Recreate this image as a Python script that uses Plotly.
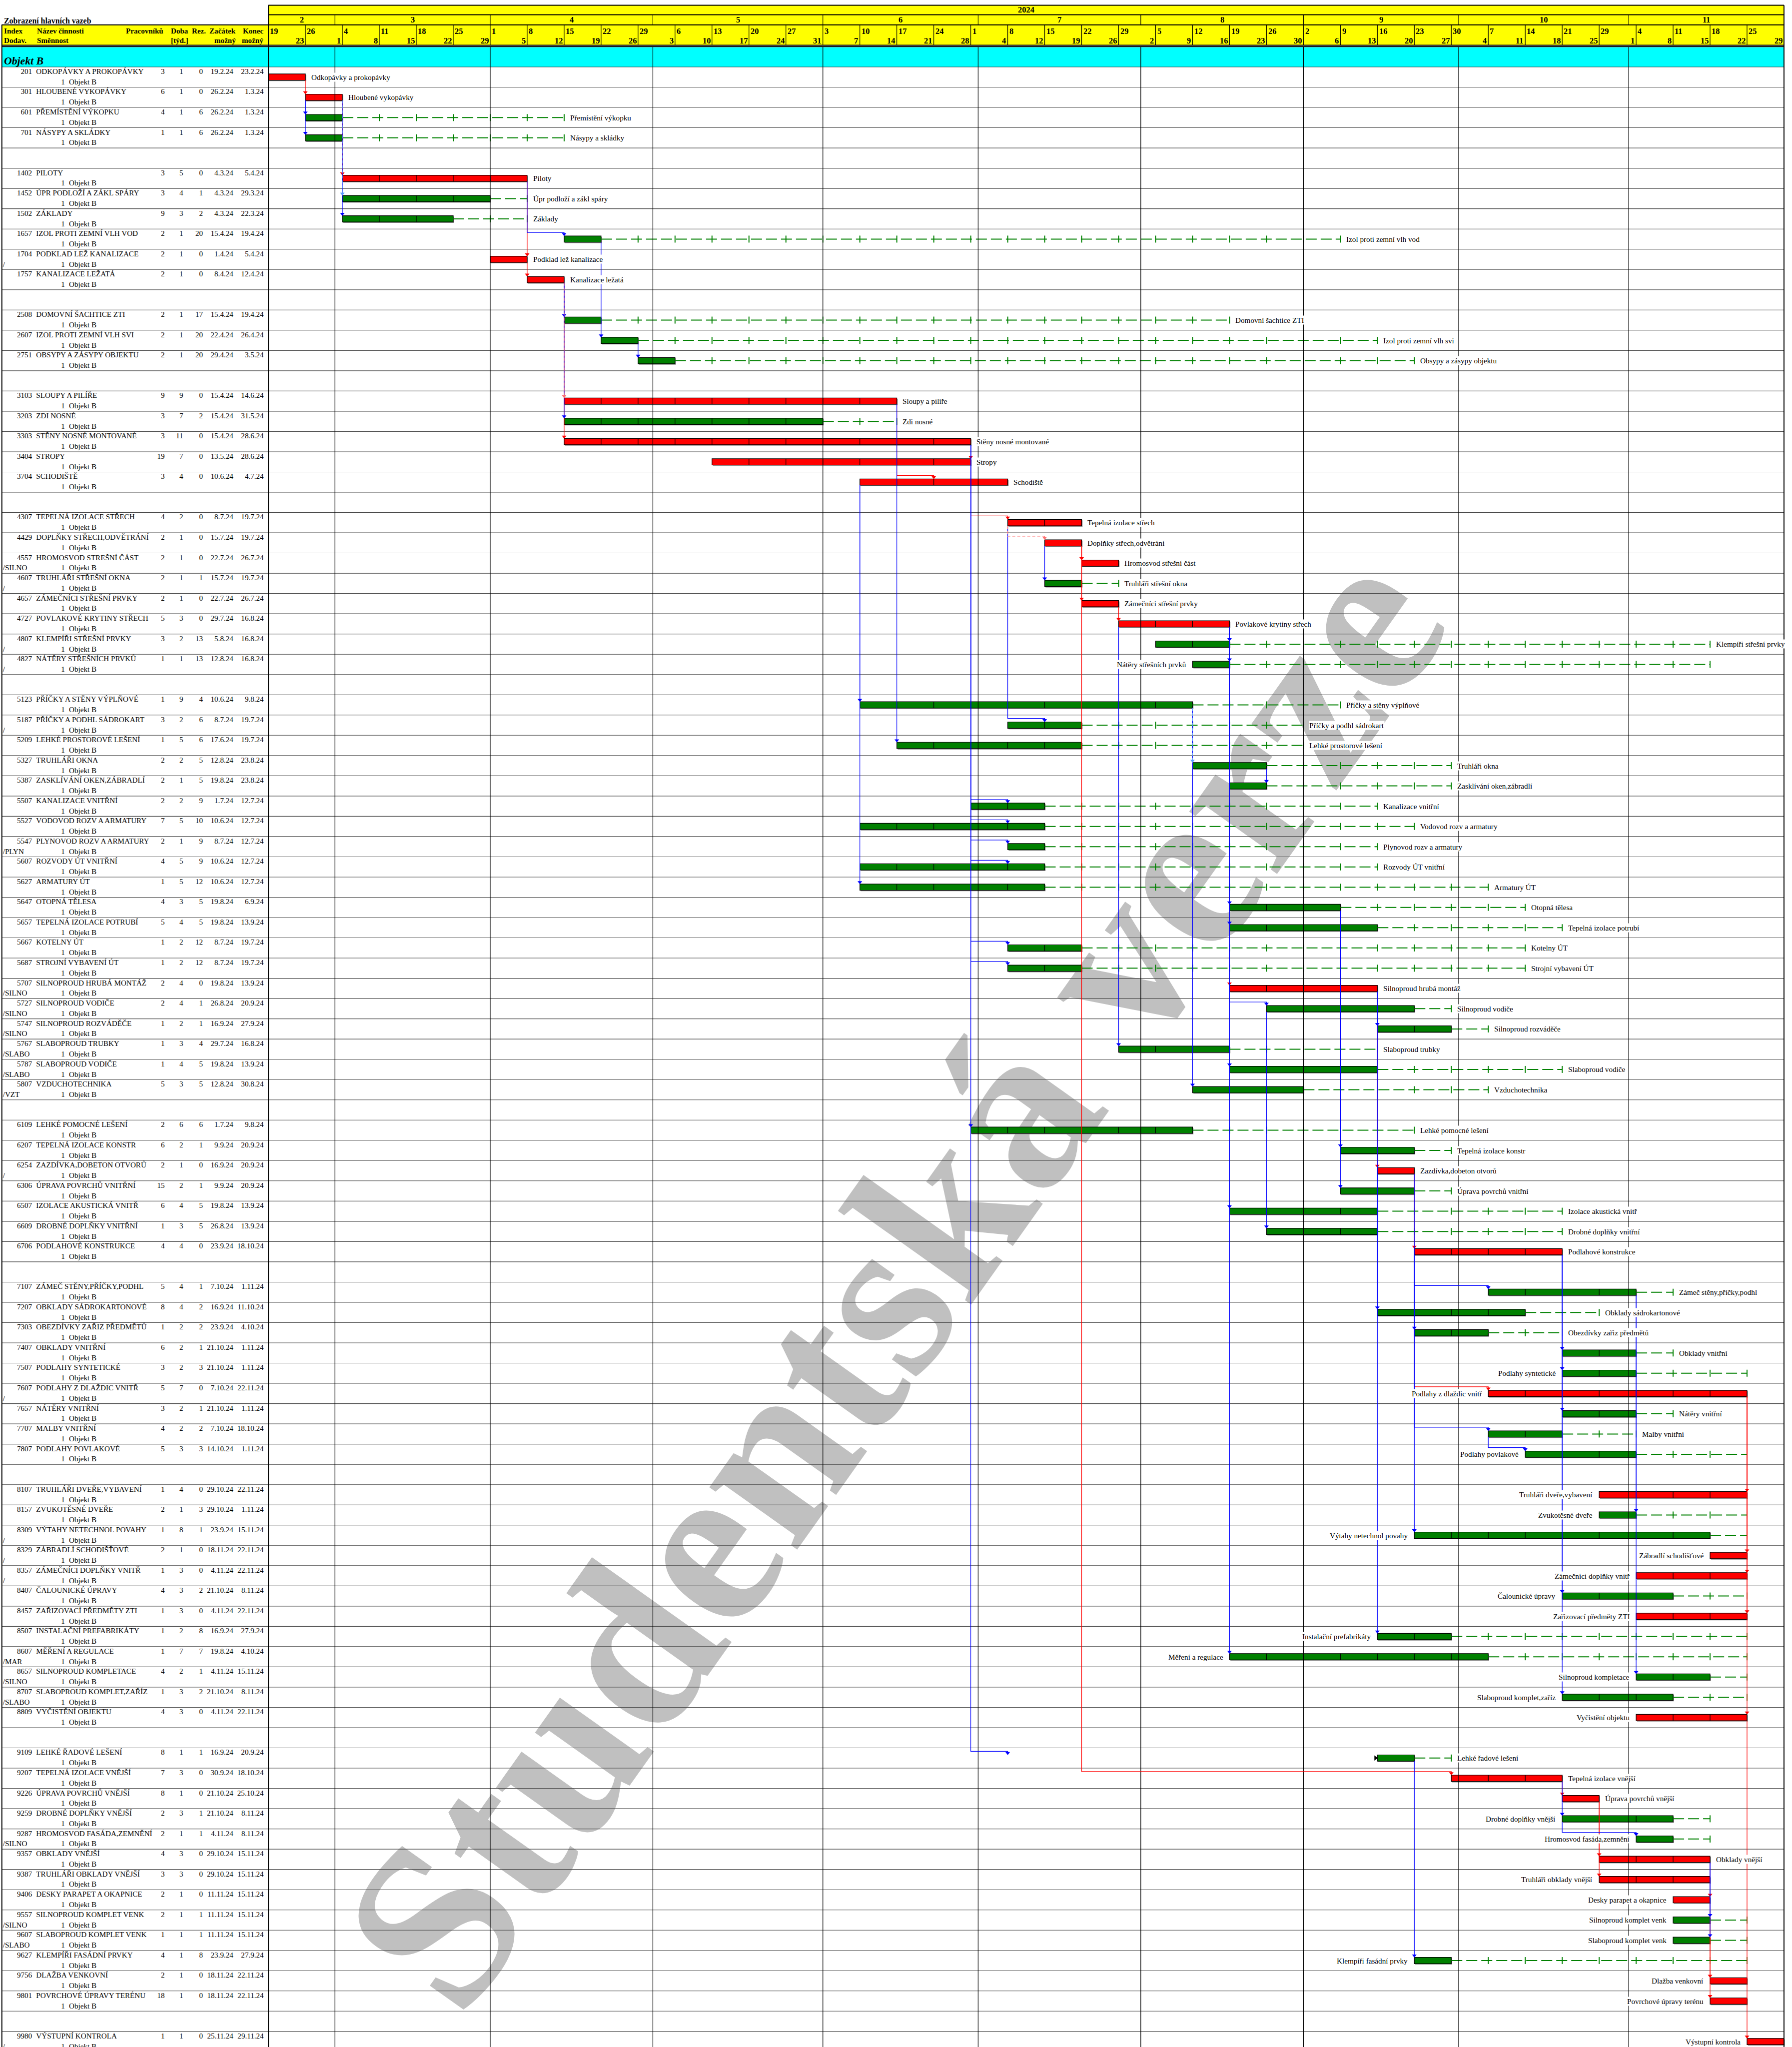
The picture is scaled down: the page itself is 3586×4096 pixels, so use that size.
import plotly.graph_objects as go
from datetime import date, timedelta

# ---------------- data ----------------
row_codes = [201, 301, 601, 701, None,
             1402, 1452, 1502, 1657, 1704, 1757, None,
             2508, 2607, 2751, None,
             3103, 3203, 3303, 3404, 3704, None,
             4307, 4429, 4557, 4607, 4657, 4727, 4807, 4827, None,
             5123, 5187, 5209, 5327, 5387, 5507, 5527, 5547, 5607, 5627, 5647, 5657, 5667, 5687,
             5707, 5727, 5747, 5767, 5787, 5807, None,
             6109, 6207, 6254, 6306, 6507, 6609, 6706, None,
             7107, 7207, 7303, 7407, 7507, 7607, 7657, 7707, 7807, None,
             8107, 8157, 8309, 8329, 8357, 8407, 8457, 8507, 8607, 8657, 8707, 8809, None,
             9109, 9207, 9226, 9259, 9287, 9357, 9387, 9406, 9557, 9607, 9627, 9756, 9801, None,
             9980]

codes = [201, 301, 601, 701, 1402, 1452, 1502, 1657, 1704, 1757, 2508, 2607, 2751,
         3103, 3203, 3303, 3404, 3704, 4307, 4429, 4557, 4607, 4657, 4727, 4807, 4827,
         5123, 5187, 5209, 5327, 5387, 5507, 5527, 5547, 5607, 5627, 5647, 5657, 5667, 5687,
         5707, 5727, 5747, 5767, 5787, 5807, 6109, 6207, 6254, 6306, 6507, 6609, 6706,
         7107, 7207, 7303, 7407, 7507, 7607, 7657, 7707, 7807,
         8107, 8157, 8309, 8329, 8357, 8407, 8457, 8507, 8607, 8657, 8707, 8809,
         9109, 9207, 9226, 9259, 9287, 9357, 9387, 9406, 9557, 9607, 9627, 9756, 9801, 9980]

names = ["ODKOPÁVKY A PROKOPÁVKY", "HLOUBENÉ VYKOPÁVKY", "PŘEMÍSTĚNÍ VÝKOPKU", "NÁSYPY A SKLÁDKY",
         "PILOTY", "ÚPR PODLOŽÍ A ZÁKL SPÁRY", "ZÁKLADY", "IZOL PROTI ZEMNÍ VLH VOD",
         "PODKLAD LEŽ KANALIZACE", "KANALIZACE LEŽATÁ", "DOMOVNÍ ŠACHTICE ZTI",
         "IZOL PROTI ZEMNÍ VLH SVI", "OBSYPY A ZÁSYPY OBJEKTU",
         "SLOUPY A PILÍŘE", "ZDI NOSNÉ", "STĚNY NOSNÉ MONTOVANÉ", "STROPY", "SCHODIŠTĚ",
         "TEPELNÁ IZOLACE STŘECH", "DOPLŇKY STŘECH,ODVĚTRÁNÍ", "HROMOSVOD STREŠNÍ ČÁST",
         "TRUHLÁŘI STŘEŠNÍ OKNA", "ZÁMEČNÍCI STŘEŠNÍ PRVKY", "POVLAKOVÉ KRYTINY STŘECH",
         "KLEMPÍŘI STŘEŠNÍ PRVKY", "NÁTĚRY STŘEŠNÍCH PRVKŮ",
         "PŘÍČKY A STĚNY VÝPLŇOVÉ", "PŘÍČKY A PODHL SÁDROKART", "LEHKÉ PROSTOROVÉ LEŠENÍ",
         "TRUHLÁŘI OKNA", "ZASKLÍVÁNÍ OKEN,ZÁBRADLÍ", "KANALIZACE VNITŘNÍ",
         "VODOVOD ROZV A ARMATURY", "PLYNOVOD ROZV A ARMATURY", "ROZVODY ÚT VNITŘNÍ",
         "ARMATURY ÚT", "OTOPNÁ TĚLESA", "TEPELNÁ IZOLACE POTRUBÍ", "KOTELNY ÚT",
         "STROJNÍ VYBAVENÍ ÚT", "SILNOPROUD HRUBÁ MONTÁŽ", "SILNOPROUD VODIČE",
         "SILNOPROUD ROZVÁDĚČE", "SLABOPROUD TRUBKY", "SLABOPROUD VODIČE", "VZDUCHOTECHNIKA",
         "LEHKÉ POMOCNÉ LEŠENÍ", "TEPELNÁ IZOLACE KONSTR", "ZAZDÍVKA,DOBETON OTVORŮ",
         "ÚPRAVA POVRCHŮ VNITŘNÍ", "IZOLACE AKUSTICKÁ VNITŘ", "DROBNÉ DOPLŇKY VNITŘNÍ",
         "PODLAHOVÉ KONSTRUKCE",
         "ZÁMEČ STĚNY,PŘÍČKY,PODHL", "OBKLADY SÁDROKARTONOVÉ", "OBEZDÍVKY ZAŘIZ PŘEDMĚTŮ",
         "OBKLADY VNITŘNÍ", "PODLAHY SYNTETICKÉ", "PODLAHY Z DLAŽDIC VNITŘ", "NÁTĚRY VNITŘNÍ",
         "MALBY VNITŘNÍ", "PODLAHY POVLAKOVÉ",
         "TRUHLÁŘI DVEŘE,VYBAVENÍ", "ZVUKOTĚSNÉ DVEŘE", "VÝTAHY NETECHNOL POVAHY",
         "ZÁBRADLÍ SCHODIŠŤOVÉ", "ZÁMEČNÍCI DOPLŇKY VNITŘ", "ČALOUNICKÉ ÚPRAVY",
         "ZAŘIZOVACÍ PŘEDMĚTY ZTI", "INSTALAČNÍ PREFABRIKÁTY", "MĚŘENÍ A REGULACE",
         "SILNOPROUD KOMPLETACE", "SLABOPROUD KOMPLET,ZAŘÍZ", "VYČISTĚNÍ OBJEKTU",
         "LEHKÉ ŘADOVÉ LEŠENÍ", "TEPELNÁ IZOLACE VNĚJŠÍ", "ÚPRAVA POVRCHŮ VNĚJŠÍ",
         "DROBNÉ DOPLŇKY VNĚJŠÍ", "HROMOSVOD FASÁDA,ZEMNĚNÍ", "OBKLADY VNĚJŠÍ",
         "TRUHLÁŘI OBKLADY VNĚJŠÍ", "DESKY PARAPET A OKAPNICE", "SILNOPROUD KOMPLET VENK",
         "SLABOPROUD KOMPLET VENK", "KLEMPÍŘI FASÁDNÍ PRVKY", "DLAŽBA VENKOVNÍ",
         "POVRCHOVÉ ÚPRAVY TERÉNU", "VÝSTUPNÍ KONTROLA"]

dodav_map = {1704: "/", 4557: "/SILNO", 4607: "/", 4807: "/", 4827: "/", 5187: "/",
             5547: "/PLYN", 5707: "/SILNO", 5727: "/SILNO", 5747: "/SILNO", 5767: "/SLABO",
             5787: "/SLABO", 5807: "/VZT", 6254: "/", 7607: "/", 8309: "/", 8329: "/",
             8357: "/", 8607: "/MAR", 8657: "/SILNO", 8707: "/SLABO", 9287: "/SILNO",
             9557: "/SILNO", 9607: "/SLABO", 9980: "/"}

workers = [3, 6, 4, 1, 3, 3, 9, 2, 2, 2, 2, 2, 2,
           9, 3, 3, 19, 3, 4, 2, 2, 2, 2, 5, 3, 1,
           1, 3, 1, 2, 2, 2, 7, 2, 4, 1, 4, 5, 1, 1,
           2, 2, 1, 1, 1, 5, 2, 6, 2, 15, 6, 1, 4,
           5, 8, 1, 6, 3, 5, 3, 4, 5,
           1, 2, 1, 2, 1, 4, 1, 1, 1, 4, 1, 4,
           8, 7, 8, 2, 2, 4, 3, 2, 2, 1, 4, 2, 18, 1]

weeks = [1, 1, 1, 1, 5, 4, 3, 1, 1, 1, 1, 1, 1,
         9, 7, 11, 7, 4, 2, 1, 1, 1, 1, 3, 2, 1,
         9, 2, 5, 2, 1, 2, 5, 1, 5, 5, 3, 4, 2, 2,
         4, 4, 2, 3, 4, 3, 6, 2, 1, 2, 4, 3, 4,
         4, 4, 2, 2, 2, 7, 2, 2, 3,
         4, 1, 8, 1, 3, 3, 3, 2, 7, 2, 3, 3,
         1, 3, 1, 3, 1, 3, 3, 1, 1, 1, 1, 1, 1, 1]

reserve = [0, 0, 6, 6, 0, 1, 2, 20, 0, 0, 17, 20, 20,
           0, 2, 0, 0, 0, 0, 0, 0, 1, 0, 0, 13, 13,
           4, 6, 6, 5, 5, 9, 10, 9, 9, 12, 5, 5, 12, 12,
           0, 1, 1, 4, 5, 5, 6, 1, 0, 1, 5, 5, 0,
           1, 2, 2, 1, 3, 0, 1, 2, 3,
           0, 3, 1, 0, 0, 2, 0, 8, 7, 1, 2, 0,
           1, 0, 0, 1, 1, 0, 0, 0, 1, 1, 8, 0, 0, 0]

starts = ["19.2.24", "26.2.24", "26.2.24", "26.2.24", "4.3.24", "4.3.24", "4.3.24", "15.4.24",
          "1.4.24", "8.4.24", "15.4.24", "22.4.24", "29.4.24",
          "15.4.24", "15.4.24", "15.4.24", "13.5.24", "10.6.24",
          "8.7.24", "15.7.24", "22.7.24", "15.7.24", "22.7.24", "29.7.24", "5.8.24", "12.8.24",
          "10.6.24", "8.7.24", "17.6.24", "12.8.24", "19.8.24", "1.7.24", "10.6.24", "8.7.24",
          "10.6.24", "10.6.24", "19.8.24", "19.8.24", "8.7.24", "8.7.24",
          "19.8.24", "26.8.24", "16.9.24", "29.7.24", "19.8.24", "12.8.24",
          "1.7.24", "9.9.24", "16.9.24", "9.9.24", "19.8.24", "26.8.24", "23.9.24",
          "7.10.24", "16.9.24", "23.9.24", "21.10.24", "21.10.24", "7.10.24", "21.10.24",
          "7.10.24", "14.10.24",
          "29.10.24", "29.10.24", "23.9.24", "18.11.24", "4.11.24", "21.10.24", "4.11.24",
          "16.9.24", "19.8.24", "4.11.24", "21.10.24", "4.11.24",
          "16.9.24", "30.9.24", "21.10.24", "21.10.24", "4.11.24", "29.10.24", "29.10.24",
          "11.11.24", "11.11.24", "11.11.24", "23.9.24", "18.11.24", "18.11.24", "25.11.24"]

ends = ["23.2.24", "1.3.24", "1.3.24", "1.3.24", "5.4.24", "29.3.24", "22.3.24", "19.4.24",
        "5.4.24", "12.4.24", "19.4.24", "26.4.24", "3.5.24",
        "14.6.24", "31.5.24", "28.6.24", "28.6.24", "4.7.24",
        "19.7.24", "19.7.24", "26.7.24", "19.7.24", "26.7.24", "16.8.24", "16.8.24", "16.8.24",
        "9.8.24", "19.7.24", "19.7.24", "23.8.24", "23.8.24", "12.7.24", "12.7.24", "12.7.24",
        "12.7.24", "12.7.24", "6.9.24", "13.9.24", "19.7.24", "19.7.24",
        "13.9.24", "20.9.24", "27.9.24", "16.8.24", "13.9.24", "30.8.24",
        "9.8.24", "20.9.24", "20.9.24", "20.9.24", "13.9.24", "13.9.24", "18.10.24",
        "1.11.24", "11.10.24", "4.10.24", "1.11.24", "1.11.24", "22.11.24", "1.11.24",
        "18.10.24", "1.11.24",
        "22.11.24", "1.11.24", "15.11.24", "22.11.24", "22.11.24", "8.11.24", "22.11.24",
        "27.9.24", "4.10.24", "15.11.24", "8.11.24", "22.11.24",
        "20.9.24", "18.10.24", "25.10.24", "8.11.24", "8.11.24", "15.11.24", "15.11.24",
        "15.11.24", "15.11.24", "15.11.24", "27.9.24", "22.11.24", "22.11.24", "29.11.24"]

bar_labels = ["Odkopávky a prokopávky", "Hloubené vykopávky", "Přemístění výkopku", "Násypy a skládky",
              "Piloty", "Úpr podloží a zákl spáry", "Základy", "Izol proti zemní vlh vod",
              "Podklad lež kanalizace", "Kanalizace ležatá", "Domovní šachtice ZTI",
              "Izol proti zemní vlh svi", "Obsypy a zásypy objektu",
              "Sloupy a pilíře", "Zdi nosné", "Stěny nosné montované", "Stropy", "Schodiště",
              "Tepelná izolace střech", "Doplňky střech,odvětrání", "Hromosvod střešní část",
              "Truhláři střešní okna", "Zámečníci střešní prvky", "Povlakové krytiny střech",
              "Klempíři střešní prvky", "Nátěry střešních prvků",
              "Příčky a stěny výplňové", "Příčky a podhl sádrokart", "Lehké prostorové lešení",
              "Truhláři okna", "Zasklívání oken,zábradlí", "Kanalizace vnitřní",
              "Vodovod rozv a armatury", "Plynovod rozv a armatury", "Rozvody ÚT vnitřní",
              "Armatury ÚT", "Otopná tělesa", "Tepelná izolace potrubí", "Kotelny ÚT",
              "Strojní vybavení ÚT", "Silnoproud hrubá montáž", "Silnoproud vodiče",
              "Silnoproud rozváděče", "Slaboproud trubky", "Slaboproud vodiče", "Vzduchotechnika",
              "Lehké pomocné lešení", "Tepelná izolace konstr", "Zazdívka,dobeton otvorů",
              "Úprava povrchů vnitřní", "Izolace akustická vnitř", "Drobné doplňky vnitřní",
              "Podlahové konstrukce",
              "Zámeč stěny,příčky,podhl", "Obklady sádrokartonové", "Obezdívky zařiz předmětů",
              "Obklady vnitřní", "Podlahy syntetické", "Podlahy z dlaždic vnitř", "Nátěry vnitřní",
              "Malby vnitřní", "Podlahy povlakové",
              "Truhláři dveře,vybavení", "Zvukotěsné dveře", "Výtahy netechnol povahy",
              "Zábradlí schodišťové", "Zámečníci doplňky vnitř", "Čalounické úpravy",
              "Zařizovací předměty ZTI", "Instalační prefabrikáty", "Měření a regulace",
              "Silnoproud kompletace", "Slaboproud komplet,zaříz", "Vyčistění objektu",
              "Lehké řadové lešení", "Tepelná izolace vnější", "Úprava povrchů vnější",
              "Drobné doplňky vnější", "Hromosvod fasáda,zemnění", "Obklady vnější",
              "Truhláři obklady vnější", "Desky parapet a okapnice", "Silnoproud komplet venk",
              "Slaboproud komplet venk", "Klempíři fasádní prvky", "Dlažba venkovní",
              "Povrchové úpravy terénu", "Výstupní kontrola"]

left_label_codes = {4827, 7507, 7607, 7807, 8107, 8157, 8309, 8329, 8357, 8407, 8457, 8507,
                    8607, 8657, 8707, 8809, 9259, 9287, 9387, 9406, 9557, 9607, 9627, 9756,
                    9801, 9980}
start_marker_codes = [9109]

week_top = ["19", "26", "4", "11", "18", "25", "1", "8", "15", "22", "29", "6", "13", "20", "27",
            "3", "10", "17", "24", "1", "8", "15", "22", "29", "5", "12", "19", "26", "2", "9",
            "16", "23", "30", "7", "14", "21", "29", "4", "11", "18", "25"]
week_bot = ["23", "1", "8", "15", "22", "29", "5", "12", "19", "26", "3", "10", "17", "24", "31",
            "7", "14", "21", "28", "4", "12", "19", "26", "2", "9", "16", "23", "30", "6", "13",
            "20", "27", "4", "11", "18", "25", "1", "8", "15", "22", "29"]
month_labels = ["2", "3", "4", "5", "6", "7", "8", "9", "10", "11"]
month_first = ["19.2.24", "1.3.24", "1.4.24", "1.5.24", "1.6.24", "2.7.24", "1.8.24", "1.9.24",
               "1.10.24", "1.11.24"]
year_label = "2024"
holidays = ["5.7.24", "28.10.24"]

# links: (predecessor, successor, anchor on pred, anchor on succ or lag in weeks, colour)
links = [
    (201, 301, 'F', 'S', 'r'), (301, 601, 'S', 'S', 'b'), (301, 701, 'S', 'S', 'b'),
    (301, 1402, 'F', 'S', 'r'), (301, 1452, 'F', 'S', 'lb'), (301, 1502, 'F', 'S', 'b'),
    (1402, 1657, 'F', 'S', 'b'), (1402, 1704, 'F', 'F', 'r'), (1704, 1757, 'F', 'S', 'r'),
    (1757, 2508, 'F', 'S', 'b'), (1657, 2607, 'F', 'S', 'b'), (2607, 2751, 'F', 'S', 'b'),
    (1757, 3103, 'F', 'S', 'lr'), (1757, 3203, 'F', 'S', 'b'), (1757, 3303, 'F', 'S', 'r'),
    (3303, 3404, 'F', 'F', 'r'), (3103, 3704, 'F', 1, 'r'), (3404, 4307, 'F', 'S', 'r'),
    (4307, 4429, 'S', 'S', 'lr'), (4429, 4557, 'F', 'S', 'r'), (4429, 4657, 'F', 'S', 'r'),
    (4429, 4607, 'S', 'S', 'b'), (4657, 4727, 'F', 'S', 'r'), (4727, 4807, 'F', 'F', 'b'),
    (4727, 4827, 'F', 'F', 'b'), (4429, 9207, 'F', 'S', 'r'),
    (3704, 5123, 'S', 'S', 'b'), (3704, 5627, 'S', 'S', 'b'), (3103, 5209, 'F', 'S', 'b'),
    (4307, 5187, 'S', 1, 'b'), (5123, 5327, 'F', 'S', 'lb'), (5327, 5387, 'F', 'F', 'b'),
    (3303, 5507, 'F', 1, 'b'), (3303, 5527, 'F', 1, 'b'), (3303, 5547, 'F', 1, 'b'),
    (3303, 5607, 'F', 1, 'b'), (3303, 5667, 'F', 1, 'b'), (3303, 5687, 'F', 1, 'b'),
    (3303, 6109, 'F', 'S', 'b'), (3303, 9109, 'F', 1, 'b'),
    (4727, 5647, 'F', 'S', 'b'), (4727, 5657, 'F', 'S', 'b'), (4727, 5707, 'F', 'S', 'r'),
    (5707, 5727, 'S', 1, 'b'), (5707, 5747, 'F', 'S', 'b'), (4727, 5767, 'S', 'S', 'b'),
    (5767, 5787, 'F', 'S', 'b'), (5123, 5807, 'F', 'S', 'b'),
    (5647, 6207, 'F', 'S', 'b'), (5647, 6306, 'F', 'S', 'b'), (5707, 6254, 'F', 'S', 'r'),
    (4727, 6507, 'F', 'S', 'b'), (5727, 6609, 'S', 'S', 'b'), (6254, 6706, 'F', 'S', 'r'),
    (6706, 7107, 'S', 2, 'b'), (6254, 7207, 'S', 'S', 'b'), (6254, 7303, 'F', 'S', 'b'),
    (6706, 7607, 'S', 2, 'r'), (6706, 7407, 'F', 'S', 'b'), (6706, 7507, 'F', 'S', 'b'),
    (6706, 7657, 'F', 'S', 'b'), (6706, 7707, 'S', 2, 'b'), (7707, 7807, 'S', 1, 'b'),
    (7607, 8107, 'F', 'F', 'r'), (7107, 8157, 'F', 'F', 'b'), (6706, 8309, 'S', 'S', 'b'),
    (7607, 8329, 'F', 'F', 'r'), (7607, 8357, 'F', 'F', 'r'), (6706, 8407, 'F', 'S', 'b'),
    (7607, 8457, 'F', 'F', 'r'), (5707, 8507, 'F', 'S', 'b'), (4727, 8607, 'F', 'S', 'b'),
    (7107, 8657, 'F', 'S', 'b'), (6706, 8707, 'F', 'S', 'b'), (7607, 8809, 'F', 'F', 'r'),
    (9207, 9226, 'F', 'S', 'r'), (9207, 9259, 'F', 'S', 'b'),
    (9226, 9357, 'F', 'S', 'r'), (9226, 9387, 'F', 'S', 'r'), (9357, 9406, 'F', 'F', 'r'),
    (9259, 9287, 'S', 2, 'b'), (9357, 9557, 'F', 'F', 'b'), (9357, 9607, 'F', 'F', 'b'),
    (9109, 9627, 'F', 'S', 'b'), (9406, 9756, 'F', 'S', 'r'), (9406, 9801, 'F', 'S', 'r'),
    (8809, 9980, 'F', 'S', 'r'),
]

# ---------------- geometry helpers (reference pixel -> axis units) ----------------
X0_PX, DAY_PX = 653.5, 18.0      # timeline origin and one working day (reference px)
Y0_PX, ROW_PX = 163.0, 49.3      # first activity row top and row height (reference px)
W_REF, H_REF = 4363, 4983
K = 3586 / W_REF                 # size factor
FONT = "Liberation Serif"


def fx(px):
    return (px - X0_PX) / DAY_PX


def fy(py):
    return (py - Y0_PX) / ROW_PX


def parse(s):
    d, m, y = s.split('.')
    return date(2000 + int(y), int(m), int(d))


BASE = date(2024, 2, 19)
HOL = {parse(h) for h in holidays}


def wpos(d):
    k = (d - BASE).days
    return (k // 7) * 5 + min(k % 7, 5)


def x_start(d):
    p = wpos(d)
    q = d - timedelta(days=1)
    while q in HOL:
        p -= 1
        q -= timedelta(days=1)
    return p


def x_end(d):
    p = wpos(d) + 1
    q = d + timedelta(days=1)
    while q in HOL:
        p += 1
        q += timedelta(days=1)
    return p


row_of = {c: i for i, c in enumerate(row_codes) if c is not None}
idx = {c: i for i, c in enumerate(codes)}
xs = [x_start(parse(s)) for s in starts]
xe = [x_end(parse(e)) for e in ends]
yc = [row_of[c] + 0.5 for c in codes]
BH = 15.3 / ROW_PX
T_END = 5 * len(week_top)

fig = go.Figure()
shapes = []
annots = []


def seg_trace(polys, color, width, dash=None):
    X, Y = [], []
    for pts in polys:
        for (a, b) in pts:
            X.append(a)
            Y.append(b)
        X.append(None)
        Y.append(None)
    return go.Scatter(x=X, y=Y, mode='lines', line=dict(color=color, width=width, dash=dash),
                      hoverinfo='skip', showlegend=False)


def rect(x0, x1, y0, y1, color):
    shapes.append(dict(type='rect', xref='x', yref='y', x0=x0, x1=x1, y0=y0, y1=y1,
                       fillcolor=color, line=dict(width=0), layer='below'))


def ann(x, y, text, size, xanchor='left', bold=True, italic=False, bg=None):
    d = dict(x=x, y=y, xref='x', yref='y', text=text, showarrow=False, xanchor=xanchor,
             yanchor='middle', borderpad=0,
             font=dict(family=FONT, size=size, color='black',
                       weight='bold' if bold else 'normal',
                       style='italic' if italic else 'normal'))
    if bg:
        d['bgcolor'] = bg
    annots.append(d)


# ---------------- backgrounds ----------------
rect(fx(654), T_END, fy(12.7), fy(110), '#FFFF00')
rect(fx(4.5), fx(654), fy(61), fy(110), '#FFFF00')
rect(fx(4.5), T_END, fy(115), fy(163), '#00FFFF')

# watermark (below everything)
shapes.append(dict(type='line', xref='x', yref='y', layer='below',
                   x0=fx(1012), y0=fy(4640), x1=fx(3236), y1=fy(1509),
                   line=dict(color='rgba(0,0,0,0)', width=0),
                   label=dict(text='Studentská verze', textposition='middle',
                              xanchor='center', yanchor='middle', padding=0,
                              font=dict(family=FONT, size=470, color='#C0C0C0', weight='bold'))))

# ---------------- grid ----------------
nrows = len(row_codes)
row_lines = [[(fx(4.5), k), (T_END, k)] for k in range(nrows + 1)]
fig.add_trace(seg_trace(row_lines, '#4a4a4a', 1.1))

# ---------------- bars ----------------
dur = [b - a for a, b in zip(xs, xe)]
fig.add_trace(go.Bar(orientation='h', y=[v + 0.045 for v in yc], base=[v + 0.12 for v in xs], x=dur,
                     width=BH, marker=dict(color='#8f8f8f', line=dict(width=0)),
                     hoverinfo='skip', showlegend=False))
fig.add_trace(go.Bar(orientation='h', y=yc, base=xs, x=dur, width=BH,
                     marker=dict(color=['#FF0000' if r == 0 else '#008000' for r in reserve],
                                 line=dict(color='black', width=1.2)),
                     hoverinfo='skip', showlegend=False))
sep = []
for a, b, y in zip(xs, xe, yc):
    w = (a // 5 + 1) * 5
    while w < b:
        sep.append([(w, y - BH / 2), (w, y + BH / 2)])
        w += 5
fig.add_trace(seg_trace(sep, 'black', 1.2))
fig.add_trace(go.Scatter(x=[xs[idx[c]] - 0.25 for c in start_marker_codes],
                         y=[yc[idx[c]] for c in start_marker_codes], mode='markers',
                         marker=dict(symbol='triangle-right', size=9, color='black'),
                         hoverinfo='skip', showlegend=False))

# reserve (free float) dashed lines
dash_polys, tick_x, tick_y = [], [], []
for a, b, y, r in zip(xs, xe, yc, reserve):
    if r > 0:
        dash_polys.append([(b, y), (b + 5 * r, y)])
        for k in range(1, r + 1):
            tick_x.append(b + 5 * k)
            tick_y.append(y)
fig.add_trace(seg_trace(dash_polys, '#008000', 2, dash='22px,8px'))
fig.add_trace(go.Scatter(x=tick_x, y=tick_y, mode='markers',
                         marker=dict(symbol='line-ns', size=10, line=dict(color='#008000', width=2)),
                         hoverinfo='skip', showlegend=False))

# ---------------- month lines & frame ----------------
mpos = [wpos(parse(m)) for m in month_first]
body_lines = [[(m, fy(113)), (m, fy(H_REF))] for m in mpos[1:]]
fig.add_trace(seg_trace(body_lines, 'black', 1.3))
frame = [
    [(fx(4.5), fy(60)), (fx(4.5), fy(H_REF))],
    [(0, fy(12.7)), (0, fy(H_REF))],
    [(T_END, fy(12.7)), (T_END, fy(H_REF))],
    [(0, fy(12.7)), (T_END, fy(12.7))],
    [(0, fy(36)), (T_END, fy(36))],
    [(fx(4.5), fy(60.5)), (T_END, fy(60.5))],
    [(fx(4.5), fy(110)), (T_END, fy(110))],
    [(fx(4.5), fy(113.5)), (T_END, fy(113.5))],
]
fig.add_trace(seg_trace(frame, 'black', 2))
hdr_lines = [[(m, fy(36)), (m, fy(60))] for m in mpos[1:]]
hdr_lines += [[(5 * k, fy(60)), (5 * k, fy(110))] for k in range(1, len(week_top))]
fig.add_trace(seg_trace(hdr_lines, 'black', 1.2))

# ---------------- links ----------------
col = {'r': ('#FF0000', None), 'b': ('#0000FF', None), 'lb': ('#5C9DFF', '6px,4px'),
       'lr': ('#FF7070', '6px,4px')}
link_polys = {k: [] for k in col}
arrows = {k: ([], []) for k in col}
for p, s, a, b, c in links:
    ip, is_ = idx[p], idx[s]
    x0 = xs[ip] if a == 'S' else xe[ip]
    if isinstance(b, str):
        x1 = xs[is_] if b == 'S' else xe[is_]
    else:
        x1 = x0 + 5 * b
    y0 = yc[ip] + BH / 2
    ybar = yc[is_] - BH / 2
    yh = row_of[s] + 0.17
    if abs(x1 - x0) < 1e-9:
        pts = [(x0, y0), (x1, ybar - 0.05)]
    else:
        pts = [(x0, y0), (x0, yh), (x1, yh), (x1, ybar - 0.05)]
    link_polys[c].append(pts)
    arrows[c][0].append(x1)
    arrows[c][1].append(ybar - 0.09)
for k, (clr, dsh) in col.items():
    fig.add_trace(seg_trace(link_polys[k], clr, 1.2, dash=dsh))
    fig.add_trace(go.Scatter(x=arrows[k][0], y=arrows[k][1], mode='markers',
                             marker=dict(symbol='triangle-down', size=8, color=clr, line=dict(width=0)),
                             hoverinfo='skip', showlegend=False))

# ---------------- table text ----------------
TS = 18.4 * K


def text_col(xpx, ys, texts, pos):
    fig.add_trace(go.Scatter(x=[fx(xpx)] * len(ys), y=ys, text=texts, mode='text',
                             textposition=pos, hoverinfo='skip', showlegend=False,
                             textfont=dict(family=FONT, size=TS, color='black')))


l1 = [row_of[c] + 0.2515 for c in codes]
l2 = [row_of[c] + 0.767 for c in codes]
text_col(78, l1, [str(c) for c in codes], 'middle left')
text_col(88, l1, names, 'middle right')
text_col(401, l1, [str(v) for v in workers], 'middle left')
text_col(446, l1, [str(v) for v in weeks], 'middle left')
text_col(494, l1, [str(v) for v in reserve], 'middle left')
text_col(568, l1, starts, 'middle left')
text_col(642, l1, ends, 'middle left')
text_col(158, l2, ["1"] * len(codes), 'middle left')
text_col(168, l2, ["Objekt B"] * len(codes), 'middle right')
dd = [(row_of[c] + 0.767, dodav_map[c]) for c in codes if c in dodav_map]
text_col(7, [d[0] for d in dd], [d[1] for d in dd], 'middle right')

# ---------------- header text ----------------
HS = 18.4 * K
ann(fx(8), fy(50), "Zobrazení hlavních vazeb", 19.3 * K)
ann(fx(8), fy(75), "Index", HS)
ann(fx(8), fy(99), "Dodav.", HS)
ann(fx(89), fy(75), "Název činnosti", HS)
ann(fx(89), fy(99), "Směnnost", HS)
ann(fx(399), fy(75), "Pracovníků", HS, 'right')
ann(fx(415), fy(75), "Doba", HS)
ann(fx(415), fy(99), "[týd.]", HS)
ann(fx(466), fy(75), "Rez.", HS)
ann(fx(575), fy(75), "Začátek", HS, 'right')
ann(fx(575), fy(99), "možný", HS, 'right')
ann(fx(643), fy(75), "Konec", HS, 'right')
ann(fx(643), fy(99), "možný", HS, 'right')
ann(fx(8), fy(148), "Objekt B", 26.4 * K, italic=True)

WS = 20 * K
ann(T_END / 2, fy(24), year_label, WS, 'center')
bounds = mpos + [T_END]
for j, m in enumerate(month_labels):
    ann((bounds[j] + bounds[j + 1]) / 2, fy(48), m, WS, 'center')
for k, (t, b) in enumerate(zip(week_top, week_bot)):
    ann(5 * k + 0.15, fy(76), t, WS, 'left')
    ann(5 * k + 5 - 0.15, fy(99), b, WS, 'right')

# ---------------- bar labels ----------------
LS = 18.5 * K
for c, a, b, y, r, lab in zip(codes, xs, xe, yc, reserve, bar_labels):
    if c in left_label_codes:
        ann(a - 0.8, y, lab, LS, 'right', bold=False, bg='white')
    else:
        ann(b + 5 * r + 0.72, y, lab, LS, 'left', bold=False, bg='white')

fig.update_layout(
    width=3586, height=4096, margin=dict(l=0, r=0, t=0, b=0),
    paper_bgcolor='white', plot_bgcolor='white', showlegend=False,
    barmode='overlay',
    xaxis=dict(range=[fx(0), fx(W_REF)], visible=False, fixedrange=True),
    yaxis=dict(range=[fy(H_REF), fy(0)], visible=False, fixedrange=True),
    shapes=shapes, annotations=annots,
)
fig.write_html("out.html", config={'displayModeBar': False},
               post_script="document.body.style.margin='0';document.body.style.padding='0';"
                           "document.body.style.overflow='hidden';")
